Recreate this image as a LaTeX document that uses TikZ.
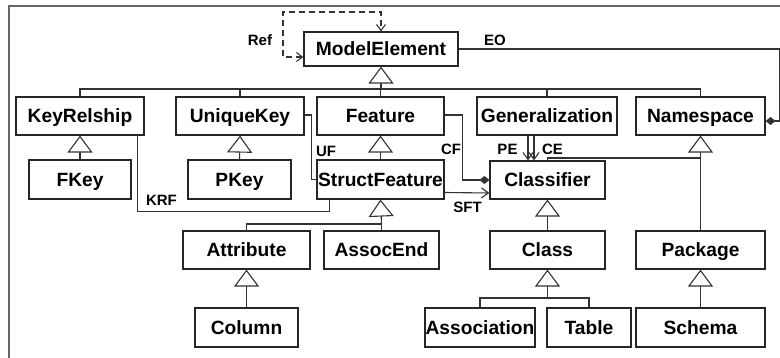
\documentclass[tikz,border=0pt]{standalone}
\usepackage{fontspec}
\setmainfont{Liberation Sans}
\usetikzlibrary{arrows.meta,calc}
\begin{document}
\begin{tikzpicture}[x=1pt,y=-1pt,
  box/.style={draw=black!85,line width=1.2pt,inner sep=0pt,text height=13.8pt,text depth=0pt,font=\bfseries\fontsize{19.2}{19}\selectfont},
  lbl/.style={inner sep=0pt,text height=10.9pt,text depth=0pt,font=\bfseries\fontsize{15}{15}\selectfont},
  conn/.style={draw=black!80,line width=1.1pt},
  gen/.style={conn,-{Triangle[open,length=17pt,width=25pt,fill=white]}},
  assoc/.style={conn,-{Straight Barb[length=7pt,width=10pt]}},
  comp/.style={conn,-{Diamond[length=10pt,width=8pt]}},
  refl/.style={conn,dash pattern=on 6pt off 4pt,{Straight Barb[length=6pt,width=9pt]}-{Straight Barb[length=6pt,width=9pt]}}
]
\useasboundingbox (0,0) rectangle (780,358);
\fill[white] (0,0) rectangle (780,358);
\draw[black!60,line width=2pt] (9,360) -- (9,6) -- (782,6);

% nodes
\node[box,minimum width=154pt,minimum height=34pt] (ME) at (381,49) {ModelElement};
\node[box,minimum width=128pt,minimum height=38pt] (KR) at (80,116) {KeyRelship};
\node[box,minimum width=128pt,minimum height=38pt] (UK) at (240,116) {UniqueKey};
\node[box,minimum width=127pt,minimum height=38pt] (FE) at (380.5,116) {Feature};
\node[box,minimum width=140pt,minimum height=38pt] (GE) at (547,116) {Generalization};
\node[box,minimum width=129pt,minimum height=38pt] (NS) at (700.5,116) {Namespace};
\node[box,minimum width=102pt,minimum height=39pt] (FK) at (80,179.5) {FKey};
\node[box,minimum width=103pt,minimum height=39pt] (PK) at (239.5,179.5) {PKey};
\node[box,minimum width=127pt,minimum height=39pt] (SF) at (380.5,179.5) {StructFeature};
\node[box,minimum width=115pt,minimum height=38pt] (CL) at (547.5,180) {Classifier};
\node[box,minimum width=127pt,minimum height=38pt] (AT) at (246.5,250) {Attribute};
\node[box,minimum width=115pt,minimum height=38pt] (AE) at (381.5,250) {AssocEnd};
\node[box,minimum width=115pt,minimum height=38pt] (CS) at (547.5,250) {Class};
\node[box,minimum width=129pt,minimum height=38pt] (PA) at (700.5,250) {Package};
\node[box,minimum width=103pt,minimum height=39pt] (CO) at (246.5,327.5) {Column};
\node[box,minimum width=110pt,minimum height=39pt] (AS) at (480,327.5) {Association};
\node[box,minimum width=84pt,minimum height=39pt] (TA) at (589,327.5) {Table};
\node[box,minimum width=129pt,minimum height=39pt] (SC) at (700.5,327.5) {Schema};

% generalization: ModelElement
\coordinate (b1) at (381,89);
\draw[conn] (KR.north) |- (b1) -| (NS.north);
\draw[conn] (UK.north) -- (UK.north |- b1);
\draw[conn] (GE.north) -- (GE.north |- b1);
\draw[conn] (FE.north) -- (FE.north |- b1);
\draw[gen] (b1) -- (ME.south);

\draw[gen] (FK.north) -- (KR.south);
\draw[gen] (PK.north) -- (UK.south);
\draw[gen] (SF.north) -- (FE.south);

\coordinate (b2) at (381.5,224);
\draw[conn] (AT.north) |- (b2) -- (AE.north);
\draw[gen] (b2) -- (SF.south);

\draw[gen] (CS.north) -- (CL.south);
\coordinate (b3) at (547.5,298);
\draw[conn] (AS.north) |- (b3) -| (TA.north);
\draw[gen] (b3) -- (CS.south);

\draw[gen] (CO.north) -- (AT.south);
\draw[gen] (SC.north) -- (PA.south);
\draw[gen] (PA.north) -- (NS.south);
\draw[conn] (CL.north) |- (PA.north |- 0,158);

% associations
\draw[refl] ($(ME.west)+(0,8)$) -| (283,12) -| (ME.north);
\node[lbl] (lref) at (260,40) {Ref};

\draw[comp] (ME.east) -| ($(NS.east)+(14,5)$) -- ($(NS.east)+(0,5)$);
\node[lbl] (leo) at (495,40) {EO};

\draw[comp] ($(FE.east)+(0,-1)$) -- ++(18,0) |- (CL.west);
\node[lbl] (lcf) at (451,149) {CF};

\draw[assoc] ($(SF.east)+(0,13)$) -- ($(CL.west)+(0,13)$);
\node[lbl] (lsft) at (467.5,207.5) {SFT};

\draw[conn] ($(UK.east)+(0,-1)$) -- ++(7,0) |- (SF.west);
\node[lbl] (luf) at (326,151) {UF};

\draw[conn] ($(KR.south east)+(-7,0)$) -- ++(0,76) -| ($(SF.south west)+(13,0)$);
\node[lbl] (lkrf) at (161.5,200) {KRF};

\draw[assoc] ($(GE.south)+(-19,0)$) -- ($(CL.north)+(-19.5,0)$);
\draw[assoc] ($(GE.south)+(-13,0)$) -- ($(CL.north)+(-13.5,0)$);
\node[lbl] (lpe) at (507.5,149) {PE};
\node[lbl] (lce) at (552.5,149) {CE};
\end{tikzpicture}
\end{document}
